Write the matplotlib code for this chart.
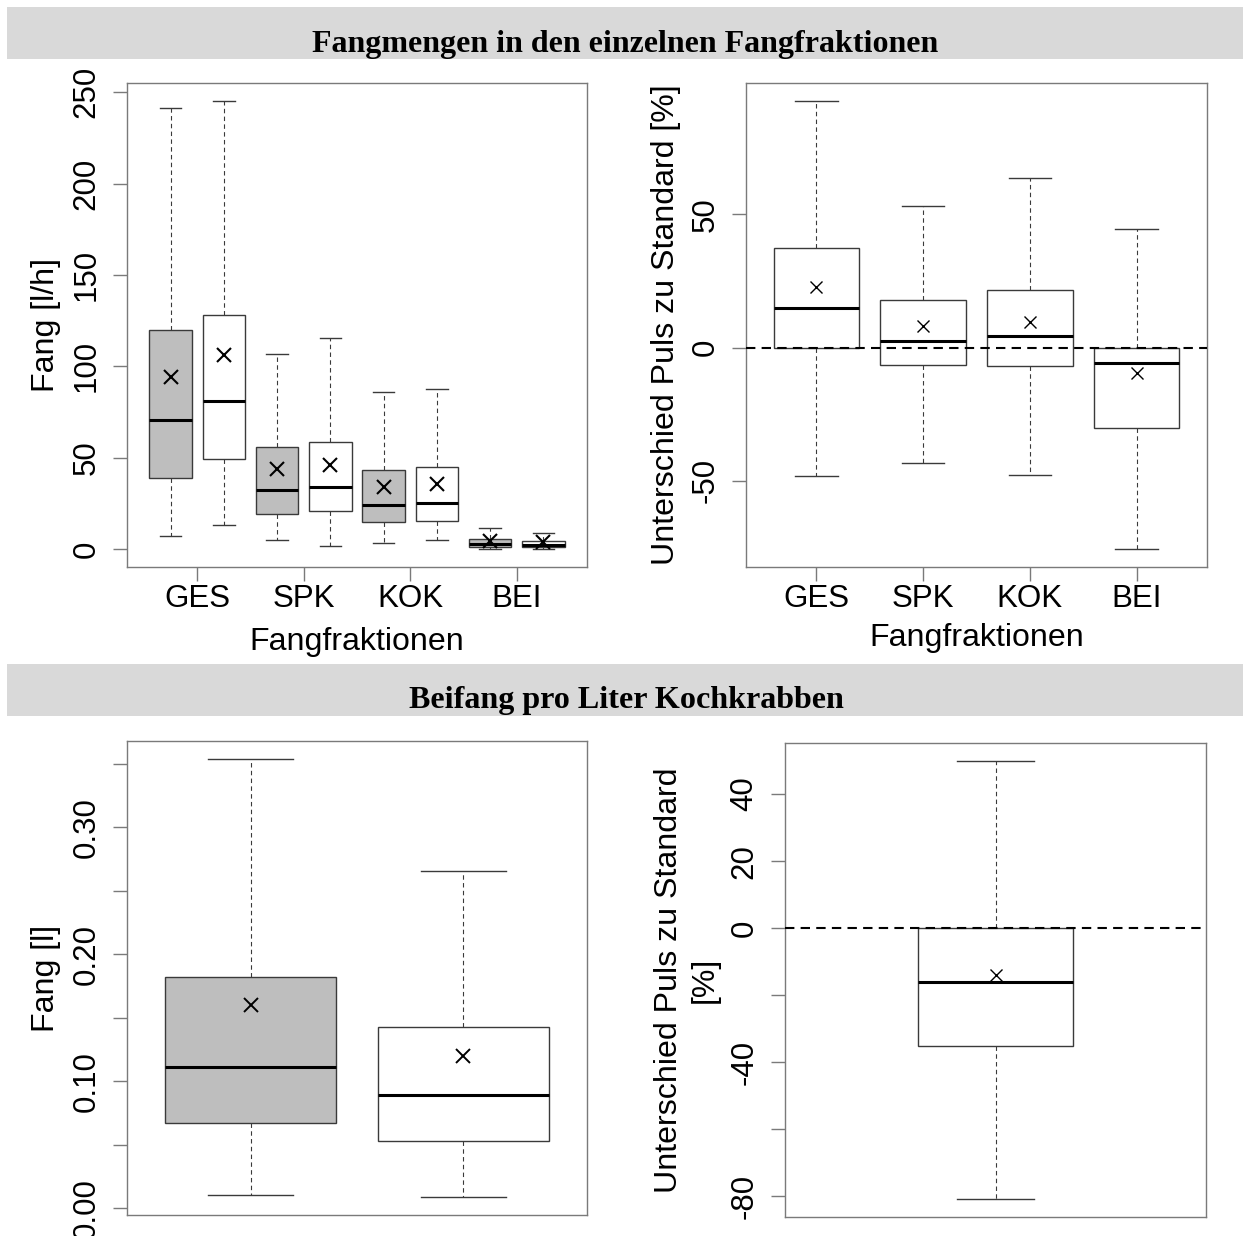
import matplotlib.pyplot as plt
from matplotlib.patches import Rectangle

plt.rcParams['font.family'] = ['Liberation Sans', 'DejaVu Sans']

# Fangmengen [l/h] je Fraktion, grau = Puls, weiss = Standard
fraktionen = ['GES', 'SPK', 'KOK', 'BEI']

puls_whislo = [7.0, 4.8, 3.1, 0.0]
puls_q1 = [39.0, 19.3, 14.6, 1.3]
puls_med = [70.6, 32.3, 24.1, 2.7]
puls_q3 = [120.0, 56.0, 43.2, 5.3]
puls_whishi = [241.4, 107.0, 86.1, 11.3]
puls_mean = [94.0, 44.0, 33.8, 4.5]

std_whislo = [13.0, 1.8, 4.9, 0.2]
std_q1 = [49.3, 21.0, 15.3, 1.3]
std_med = [81.0, 33.8, 25.2, 2.2]
std_q3 = [128.0, 58.7, 44.7, 4.2]
std_whishi = [245.2, 115.7, 87.6, 8.8]
std_mean = [106.4, 46.1, 35.4, 3.8]

# Unterschied Puls zu Standard [%]
diff_whislo = [-48.4, -43.4, -47.7, -75.7]
diff_q1 = [0.0, -6.7, -7.0, -30.3]
diff_med = [14.8, 2.6, 4.5, -5.7]
diff_q3 = [37.5, 17.7, 21.7, 0.0]
diff_whishi = [92.6, 53.3, 63.5, 44.4]
diff_mean = [22.9, 8.1, 9.4, -9.6]

# Beifang pro Liter Kochkrabben [l], Puls / Standard
bei_whislo = [0.0102, 0.0084]
bei_q1 = [0.0667, 0.0525]
bei_med = [0.1113, 0.0887]
bei_q3 = [0.1817, 0.143]
bei_whishi = [0.354, 0.2656]
bei_mean = [0.160, 0.120]

# Unterschied Beifang pro Liter [%]
bdiff_whislo = [-80.9]
bdiff_q1 = [-35.2]
bdiff_med = [-16.0]
bdiff_q3 = [0.0]
bdiff_whishi = [50.0]
bdiff_mean = [-14.0]

FS = 22.5
FS_LAB = 23.1
EDGE = '#3a3a3a'
FRAME = '#7a7a7a'
GRAU = '#bebebe'


def make_stats(lo, q1, med, q3, hi, mean):
    return [dict(whislo=a, q1=b, med=c, q3=d, whishi=e, mean=f, fliers=[])
            for a, b, c, d, e, f in zip(lo, q1, med, q3, hi, mean)]


def draw_boxes(ax, stats, colors, width, msize, mew):
    positions = list(range(1, len(stats) + 1))
    bp = ax.bxp(stats, positions=positions, widths=width, capwidths=width / 2,
                patch_artist=True, showmeans=True, showfliers=False, manage_ticks=False,
                boxprops=dict(edgecolor=EDGE, linewidth=1.0),
                whiskerprops=dict(color=EDGE, linewidth=0.8, linestyle=(0, (4, 3))),
                capprops=dict(color=EDGE, linewidth=1.0),
                medianprops=dict(color='black', linewidth=2.2, solid_capstyle='butt'),
                meanprops=dict(marker='x', markeredgecolor='black', markersize=msize,
                               markeredgewidth=mew))
    for patch, c in zip(bp['boxes'], colors):
        patch.set_facecolor(c)
    lo = min(s['whislo'] for s in stats)
    hi = max(s['whishi'] for s in stats)
    span = hi - lo
    n = len(stats)
    ax.set_ylim(lo - 0.04 * span, hi + 0.04 * span)
    ax.set_xlim(0.5 - 0.04 * n, n + 0.5 + 0.04 * n)


def style_axes(ax, yticks, ylabels):
    for s in ax.spines.values():
        s.set_color(FRAME)
        s.set_linewidth(1.0)
    ax.set_yticks(yticks)
    ax.set_yticklabels(ylabels)
    ax.tick_params(length=10, width=1.0, color=FRAME, labelsize=FS)
    ax.tick_params(axis='y', labelrotation=90, pad=8.5)
    ax.tick_params(axis='x', pad=2)
    for lab in ax.get_yticklabels():
        lab.set_va('center')


fig = plt.figure(figsize=(12.43, 12.36), dpi=100)

# Kopfzeilen
for y0 in (0.95227, 0.42071):
    fig.add_artist(Rectangle((0.00563, y0), 0.99437, 0.04207, transform=fig.transFigure,
                             facecolor='#d9d9d9', edgecolor='none', zorder=0))
fig.text(0.5032, 0.95793, 'Fangmengen in den einzelnen Fangfraktionen', ha='center',
         va='baseline', fontsize=23.0, fontweight='bold', family=['Liberation Serif'])
fig.text(0.5036, 0.42718, 'Beifang pro Liter Kochkrabben', ha='center',
         va='baseline', fontsize=23.1, fontweight='bold', family=['Liberation Serif'])

# oben links: Fang [l/h]
ax1 = fig.add_axes([0.10217, 0.54126, 0.37007, 0.39159])
st_puls = make_stats(puls_whislo, puls_q1, puls_med, puls_q3, puls_whishi, puls_mean)
st_std = make_stats(std_whislo, std_q1, std_med, std_q3, std_whishi, std_mean)
st_all = [s for pair in zip(st_puls, st_std) for s in pair]
draw_boxes(ax1, st_all, [GRAU, 'white'] * 4, 0.8, 10.5, 1.5)
style_axes(ax1, [0, 50, 100, 150, 200, 250], ['0', '50', '100', '150', '200', '250'])
ax1.set_xticks([1.5, 3.5, 5.5, 7.5])
ax1.set_xticklabels(fraktionen)
ax1.set_xlabel('Fangfraktionen', fontsize=FS_LAB)
ax1.xaxis.set_label_coords(0.5, -0.124)
ax1.set_ylabel('Fang [l/h]', fontsize=FS_LAB)
ax1.yaxis.set_label_coords(-0.143, 0.5)

# oben rechts: Unterschied in %
ax2 = fig.add_axes([0.60016, 0.54126, 0.37088, 0.39159])
draw_boxes(ax2, make_stats(diff_whislo, diff_q1, diff_med, diff_q3, diff_whishi, diff_mean),
           ['white'] * 4, 0.8, 8.5, 1.0)
ax2.axhline(0, color='black', linewidth=1.5, dashes=(4.5, 3), zorder=5)
style_axes(ax2, [-50, 0, 50], ['-50', '0', '50'])
ax2.set_xticks([1, 2, 3, 4])
ax2.set_xticklabels(fraktionen)
ax2.set_xlabel('Fangfraktionen', fontsize=FS_LAB)
ax2.xaxis.set_label_coords(0.5, -0.115)
ax2.set_ylabel('Unterschied Puls zu Standard [%]', fontsize=FS_LAB)
ax2.yaxis.set_label_coords(-0.141, 0.5)

# unten links: Beifang [l]
ax3 = fig.add_axes([0.10217, 0.01699, 0.37007, 0.38350])
draw_boxes(ax3, make_stats(bei_whislo, bei_q1, bei_med, bei_q3, bei_whishi, bei_mean),
           [GRAU, 'white'], 0.8, 10, 1.4)
style_axes(ax3, [0.0, 0.05, 0.10, 0.15, 0.20, 0.25, 0.30, 0.35],
           ['0.00', '', '0.10', '', '0.20', '', '0.30', ''])
ax3.set_xticks([])
ax3.set_ylabel('Fang [l]', fontsize=FS_LAB)
ax3.yaxis.set_label_coords(-0.143, 0.5)

# unten rechts: Unterschied Beifang
ax4 = fig.add_axes([0.63154, 0.01537, 0.33870, 0.38350])
draw_boxes(ax4, make_stats(bdiff_whislo, bdiff_q1, bdiff_med, bdiff_q3, bdiff_whishi, bdiff_mean),
           ['white'], 0.4, 8.5, 1.0)
ax4.axhline(0, color='black', linewidth=1.5, dashes=(4.5, 3), zorder=5)
style_axes(ax4, [-80, -60, -40, -20, 0, 20, 40], ['-80', '', '-40', '', '0', '20', '40'])
ax4.set_xticks([])
ax4.set_ylabel('Unterschied Puls zu Standard\n[%]', fontsize=FS_LAB, linespacing=1.25)
ax4.yaxis.set_label_coords(-0.154, 0.5)

fig.savefig('out.png', dpi=100)
